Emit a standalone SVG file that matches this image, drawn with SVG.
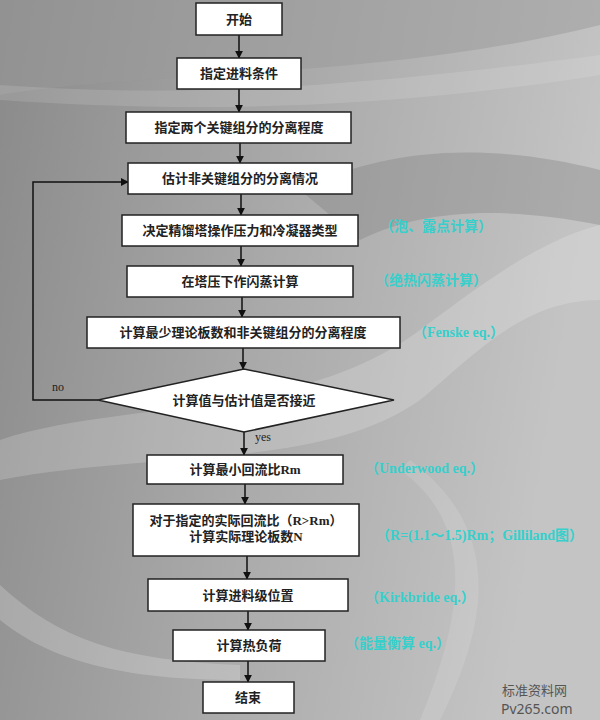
<svg xmlns="http://www.w3.org/2000/svg" width="600" height="720" viewBox="0 0 600 720">
<defs>
<linearGradient id="bg" x1="0" y1="0" x2="1" y2="0.2">
<stop offset="0" stop-color="#8a8a8a"/>
<stop offset="0.5" stop-color="#a9a9a9"/>
<stop offset="1" stop-color="#c4c4c4"/>
</linearGradient>
<marker id="arr" viewBox="0 0 10 10" refX="9" refY="5" markerWidth="8" markerHeight="8" orient="auto" markerUnits="userSpaceOnUse">
<path d="M0,0 L10,5 L0,10 Z" fill="#111"/>
</marker>
<style>
.box{fill:#fff;stroke:#222;stroke-width:1.5}
.t{font-family:"Liberation Serif","Noto Sans CJK SC",serif;font-size:13px;font-weight:bold;fill:#222;text-anchor:middle}
.c{font-family:"Liberation Serif","Noto Sans CJK SC",serif;font-size:14px;font-weight:bold;fill:#36d0cc}
.l{font-family:"Liberation Serif",serif;font-size:12px;fill:#222}
.ln{fill:none;stroke:#111;stroke-width:1.5}
.w{font-family:"Noto Sans CJK SC","Noto Sans",sans-serif;font-size:13px;fill:#555}
.w2{font-family:"Noto Sans",sans-serif;font-size:14px;fill:#555}
</style>
</defs>
<rect width="600" height="720" fill="url(#bg)"/>
<g id="background">
<path d="M0,95 C150,70 380,80 600,25 L600,0 L0,0 Z" fill="#9a9a9a" opacity="0.5"/>
<path d="M0,85 C150,95 300,95 600,55 L600,75 C350,115 150,110 0,100 Z" fill="#ffffff" opacity="0.12"/>
<path d="M0,440 C120,400 300,420 420,330 C480,285 540,240 600,225 L600,300 C520,300 470,360 420,400 C320,470 160,450 0,480 Z" fill="#ffffff" opacity="0.18"/>
<path d="M300,190 C380,150 480,140 600,170 L600,225 C500,205 420,210 360,240 Z" fill="#7e7e7e" opacity="0.35"/>
<path d="M0,585 C60,640 120,660 240,665 L240,680 C120,680 50,660 0,620 Z" fill="#ffffff" opacity="0.2"/>
<path d="M400,470 C470,520 470,600 420,720 L440,720 C500,600 490,520 410,460 Z" fill="#ffffff" opacity="0.12"/>
</g>
<g id="connectors">
<line class="ln" x1="239" y1="35" x2="239" y2="58" marker-end="url(#arr)"/>
<line class="ln" x1="239" y1="89" x2="239" y2="112" marker-end="url(#arr)"/>
<line class="ln" x1="240" y1="143" x2="240" y2="163" marker-end="url(#arr)"/>
<line class="ln" x1="241" y1="194" x2="241" y2="215" marker-end="url(#arr)"/>
<line class="ln" x1="241" y1="246" x2="241" y2="266" marker-end="url(#arr)"/>
<line class="ln" x1="242" y1="297" x2="242" y2="317" marker-end="url(#arr)"/>
<line class="ln" x1="243" y1="348" x2="243" y2="369" marker-end="url(#arr)"/>
<line class="ln" x1="244" y1="432" x2="244" y2="455" marker-end="url(#arr)"/>
<line class="ln" x1="245" y1="484" x2="245" y2="504" marker-end="url(#arr)"/>
<line class="ln" x1="247" y1="556" x2="247" y2="579" marker-end="url(#arr)"/>
<line class="ln" x1="248" y1="611" x2="248" y2="630" marker-end="url(#arr)"/>
<line class="ln" x1="248" y1="661" x2="248" y2="682" marker-end="url(#arr)"/>
<polyline class="ln" points="98,400 33,400 33,182 128,182" marker-end="url(#arr)"/>
<text class="l" x="52" y="391">no</text>
<text class="l" x="255" y="441">yes</text>
</g>
<g id="n1"><rect class="box" x="196" y="3" width="86" height="32"/><text class="t" x="239" y="24">开始</text></g>
<g id="n2"><rect class="box" x="177" y="58" width="124" height="31"/><text class="t" x="239" y="78">指定进料条件</text></g>
<g id="n3"><rect class="box" x="126" y="112" width="225" height="31"/><text class="t" x="239" y="132">指定两个关键组分的分离程度</text></g>
<g id="n4"><rect class="box" x="128" y="163" width="224" height="31"/><text class="t" x="240" y="183">估计非关键组分的分离情况</text></g>
<g id="n5"><rect class="box" x="122" y="215" width="236" height="31"/><text class="t" x="240" y="235">决定精馏塔操作压力和冷凝器类型</text></g>
<g id="n6"><rect class="box" x="127" y="266" width="226" height="31"/><text class="t" x="240" y="286">在塔压下作闪蒸计算</text></g>
<g id="n7"><rect class="box" x="87" y="317" width="313" height="31"/><text class="t" x="243" y="337">计算最少理论板数和非关键组分的分离程度</text></g>
<g id="n8"><polygon class="box" points="98,400 244,369 394,400 244,432"/><text class="t" x="244" y="405">计算值与估计值是否接近</text></g>
<g id="n9"><rect class="box" x="147" y="455" width="196" height="29"/><text class="t" x="245" y="474">计算最小回流比Rm</text></g>
<g id="n10"><rect class="box" x="133" y="504" width="226" height="52"/><text class="t" x="246" y="525">对于指定的实际回流比（R&gt;Rm）</text><text class="t" x="246" y="541">计算实际理论板数N</text></g>
<g id="n11"><rect class="box" x="148" y="579" width="200" height="32"/><text class="t" x="248" y="600">计算进料级位置</text></g>
<g id="n12"><rect class="box" x="173" y="630" width="152" height="31"/><text class="t" x="249" y="650">计算热负荷</text></g>
<g id="n13"><rect class="box" x="203" y="682" width="91" height="31"/><text class="t" x="248" y="702">结束</text></g>
<g id="notes">
<text class="c" x="380" y="231">（泡、露点计算）</text>
<text class="c" x="375" y="285">（绝热闪蒸计算）</text>
<text class="c" x="413" y="337">（Fenske eq.）</text>
<text class="c" x="365" y="473">（Underwood eq.）</text>
<text class="c" x="376" y="540">（R=(1.1～1.5)Rm；Gilliland图）</text>
<text class="c" x="365" y="602">（Kirkbride eq.）</text>
<text class="c" x="345" y="648">（能量衡算 eq.）</text>
</g>
<g id="watermark">
<text class="w" x="502" y="695">标准资料网</text>
<text class="w2" x="501" y="714">Pv265.com</text>
</g>
</svg>
